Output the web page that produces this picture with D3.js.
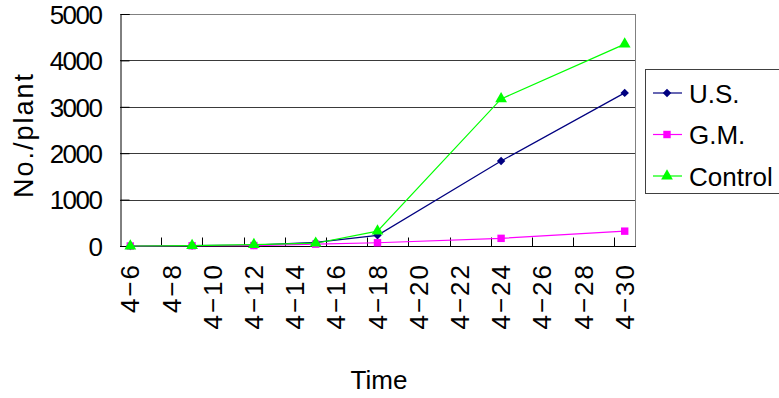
<!DOCTYPE html>
<html>
<head>
<meta charset="utf-8">
<script src="https://cdn.jsdelivr.net/npm/d3@7"></script>
<style>
  html, body { margin: 0; padding: 0; background: #fff; }
  svg { display: block; }
  text { font-family: "Liberation Sans", Arial, sans-serif; fill: #000; }
</style>
</head>
<body>
<svg id="chart" width="779" height="398"></svg>
<script>
// Sampling days in April
const sampleDays = [6, 9, 12, 15, 18, 24, 30];
// Counts per plant for each treatment
const usValues = [0, 10, 20, 80, 230, 1830, 3300];
const gmValues = [0, 5, 10, 40, 70, 165, 320];
const controlValues = [0, 10, 30, 60, 320, 3170, 4350];
// Axis labels
const dayTicks = [6, 8, 10, 12, 14, 16, 18, 20, 22, 24, 26, 28, 30];
const yTicks = [0, 1000, 2000, 3000, 4000, 5000];
const seriesNames = ["U.S.", "G.M.", "Control"];
const seriesColors = ["#000080", "#ff00ff", "#00ff00"];
// Diamond = square turned 45 degrees
const seriesShapes = [d3.symbolSquare, d3.symbolSquare, d3.symbolTriangle];
const seriesRotate = [45, 0, 0];
const seriesSizes = [36, 55, 60];

const svg = d3.select("#chart");
const plotLeft = 120, plotRight = 635, plotTop = 14, plotBottom = 246;

// Each day occupies one slot; labels sit in the slot centre
const x = d3.scaleLinear().domain([5.5, 30.5]).range([plotLeft, plotRight]);
const y = d3.scaleLinear().domain([0, 5000]).range([plotBottom, plotTop]);

// Horizontal gridlines
svg.append("g").selectAll("line")
  .data(yTicks.filter(v => v > 0 && v < 5000))
  .join("line")
  .attr("x1", plotLeft).attr("x2", plotRight)
  .attr("y1", d => Math.round(y(d)) + 0.5).attr("y2", d => Math.round(y(d)) + 0.5)
  .attr("stroke", "#3a3a3a").attr("stroke-width", 1);

// Plot frame (top/right in grey)
svg.append("line").attr("x1", plotLeft).attr("x2", plotRight)
  .attr("y1", plotTop + 0.5).attr("y2", plotTop + 0.5).attr("stroke", "#808080");
svg.append("line").attr("x1", plotRight + 0.5).attr("x2", plotRight + 0.5)
  .attr("y1", plotTop).attr("y2", plotBottom).attr("stroke", "#808080");

// Y axis with inward ticks
const yAxis = d3.axisLeft(y).tickValues(yTicks).tickSize(-9).tickPadding(20).tickFormat(d3.format("d"));
const gy = svg.append("g").attr("transform", `translate(${plotLeft + 0.5},0)`).call(yAxis);
gy.select(".domain").attr("stroke", "#000");
gy.selectAll(".tick line").attr("stroke", "#000");
gy.selectAll(".tick text")
  .attr("font-size", 26).attr("letter-spacing", "-1.5px")
  .attr("font-family", "Liberation Sans, Arial, sans-serif")
  .attr("x", -19).attr("dy", "0.36em");

// X axis: slot boundaries every two days carry the tick marks
const boundaryTicks = d3.range(7.5, 30, 2);
const gx = svg.append("g").attr("transform", `translate(0,${plotBottom + 0.5})`);
gx.append("line").attr("x1", plotLeft).attr("x2", plotRight + 1).attr("stroke", "#000");
gx.selectAll("line.tk").data(boundaryTicks).join("line").attr("class", "tk")
  .attr("x1", d => Math.round(x(d)) + 0.5).attr("x2", d => Math.round(x(d)) + 0.5)
  .attr("y1", 0).attr("y2", -9).attr("stroke", "#000");

// Rotated day labels
svg.append("g").selectAll("text")
  .data(dayTicks)
  .join("text")
  .attr("transform", d => `translate(${x(d) + 9},${plotBottom + 17}) rotate(-90)`)
  .attr("text-anchor", "end")
  .attr("font-size", 26)
  .attr("letter-spacing", "2px")
  .text(d => "4\u2212" + d);

// Series lines and markers
const seriesData = [usValues, gmValues, controlValues];
const line = d3.line().x((d, i) => x(sampleDays[i])).y(d => y(d));
seriesData.forEach((vals, s) => {
  svg.append("path").datum(vals)
    .attr("d", line)
    .attr("fill", "none")
    .attr("stroke", seriesColors[s])
    .attr("stroke-width", 1.2);
});
seriesData.forEach((vals, s) => {
  svg.append("g").selectAll("path")
    .data(vals)
    .join("path")
    .attr("transform", (d, i) => `translate(${x(sampleDays[i])},${y(d)}) rotate(${seriesRotate[s]})`)
    .attr("d", d3.symbol(seriesShapes[s], seriesSizes[s]))
    .attr("fill", seriesColors[s]);
});

// Axis titles
svg.append("text")
  .attr("transform", "translate(33,135) rotate(-90)")
  .attr("text-anchor", "middle")
  .attr("font-size", 27)
  .attr("letter-spacing", "2px")
  .text("No./plant");
svg.append("text")
  .attr("x", 379).attr("y", 389)
  .attr("text-anchor", "middle")
  .attr("font-size", 26)
  .text("Time");

// Legend
const lg = svg.append("g");
lg.append("rect").attr("x", 645.5).attr("y", 69.5).attr("width", 140).attr("height", 124)
  .attr("fill", "#fff").attr("stroke", "#404040");
seriesNames.forEach((name, i) => {
  const cy = 93 + i * 41.5;
  lg.append("line").attr("x1", 653).attr("x2", 682).attr("y1", cy).attr("y2", cy)
    .attr("stroke", seriesColors[i]).attr("stroke-width", 1.2);
  lg.append("path").attr("transform", `translate(667,${cy}) rotate(${seriesRotate[i]})`)
    .attr("d", d3.symbol(seriesShapes[i], seriesSizes[i]))
    .attr("fill", seriesColors[i]);
  lg.append("text").attr("x", 689).attr("y", cy + 9.5)
    .attr("font-size", 26).text(name);
});
</script>
</body>
</html>
